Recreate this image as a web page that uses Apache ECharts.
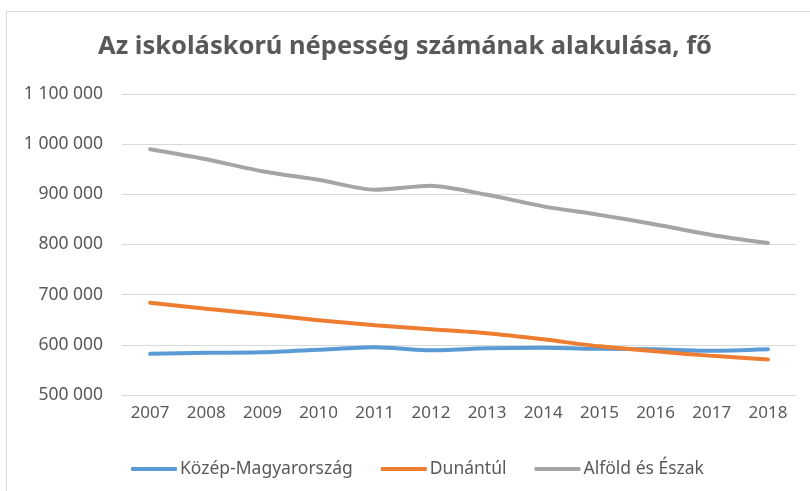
<!DOCTYPE html>
<html><head><meta charset="utf-8">
<script src="https://cdn.jsdelivr.net/npm/echarts@6/dist/echarts.min.js"></script>
<style>html,body{margin:0;padding:0;background:#fff}#c{width:810px;height:491px}</style>
</head><body><div id="c"></div>
<script>
const years = ['2007','2008','2009','2010','2011','2012','2013','2014','2015','2016','2017','2018'];
const kozepMagyarorszag = [582000,584000,585000,590000,595000,589000,593000,594000,592000,591000,588000,591000];
const dunantul = [684000,672000,661000,649000,639000,631000,623000,611000,597000,587000,578000,571000];
const alfoldEszak = [990000,970000,946000,929000,909000,917000,899000,876000,859000,840000,819000,803000];
const seriesNames = ['Közép-Magyarország','Dunántúl','Alföld és Észak'];
const colors = ['#5b9bd5','#ed7d31','#a5a5a5'];

const fmt = v => String(v).replace(/\B(?=(\d{3})+(?!\d))/g, ' ');
const font = '"Noto Sans", "Open Sans", sans-serif';
const chart = echarts.init(document.getElementById('c'));
const mk = (name, data, i) => ({
  name, type: 'line', data, smooth: 0.25, symbol: 'none',
  lineStyle: { width: 4, color: colors[i], cap: 'round' },
  itemStyle: { color: colors[i] }
});
chart.setOption({
  animation: false,
  graphic: [{ type: 'rect', shape: { x: 6.5, y: 11.5, width: 850, height: 500 },
    style: { fill: 'none', stroke: '#d9d9d9', lineWidth: 1 } }],
  title: { text: 'Az iskoláskorú népesség számának alakulása, fő', left: 'center', top: 29,
    textStyle: { fontFamily: font, fontWeight: 'bold', fontSize: 25.5, color: '#595959' } },
  grid: { left: 122, right: 14, top: 94, bottom: 96 },
  xAxis: { type: 'category', data: years, boundaryGap: true,
    axisLine: { lineStyle: { color: '#d9d9d9' } }, axisTick: { show: false },
    axisLabel: { color: '#595959', fontFamily: font, fontSize: 17, margin: 10 } },
  yAxis: { type: 'value', min: 500000, max: 1100000, interval: 100000,
    axisLine: { show: false }, axisTick: { show: false },
    splitLine: { lineStyle: { color: '#d9d9d9', width: 1 } },
    axisLabel: { color: '#595959', fontFamily: font, fontSize: 17.5, margin: 19, formatter: fmt } },
  legend: { left: 126, top: 455, itemWidth: 46, itemHeight: 4, itemGap: 28, icon: 'roundRect',
    textStyle: { color: '#595959', fontFamily: font, fontSize: 17.5, padding: [0,0,0,-2] },
    data: seriesNames },
  series: [mk(seriesNames[0], kozepMagyarorszag, 0), mk(seriesNames[1], dunantul, 1), mk(seriesNames[2], alfoldEszak, 2)]
});
</script></body></html>
